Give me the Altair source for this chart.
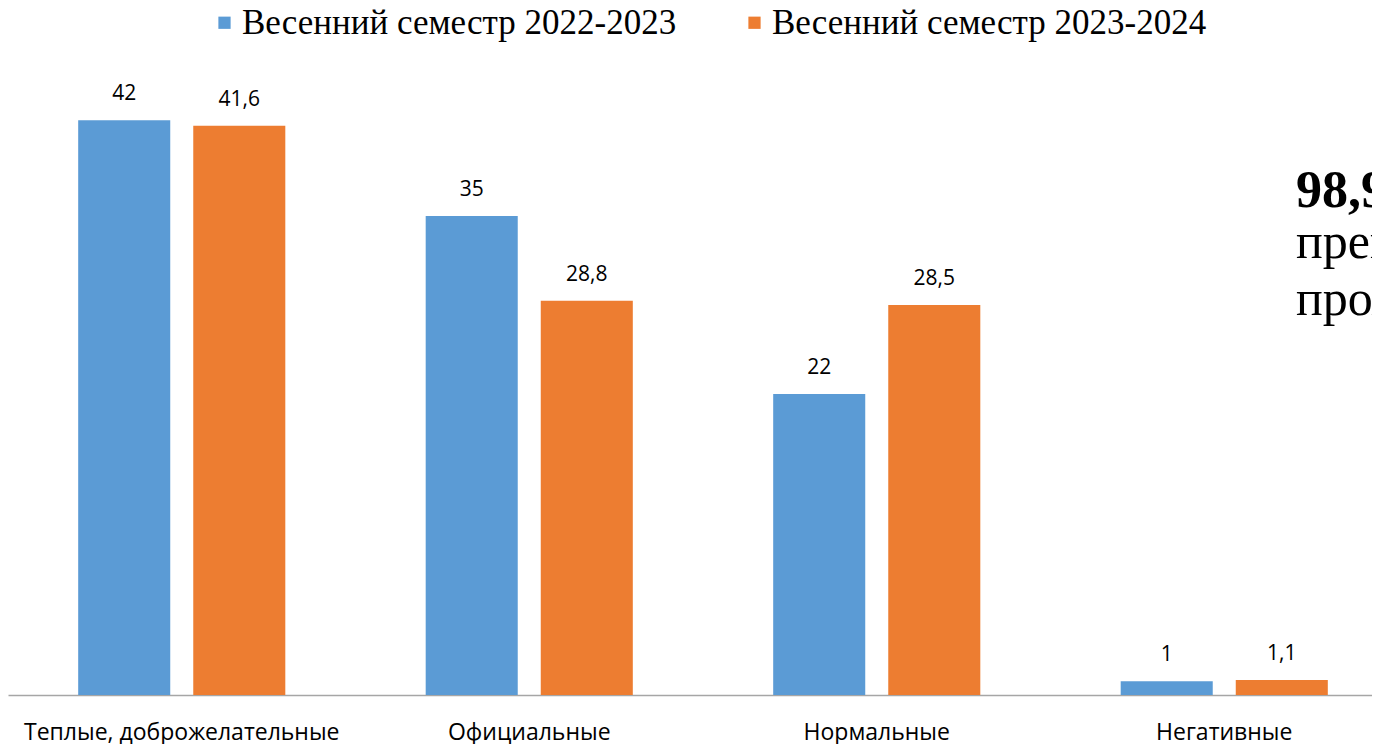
import altair as alt
import pandas as pd

categories = ["Теплые, доброжелательные", "Официальные", "Нормальные", "Негативные"]
series = ["Весенний семестр 2022-2023", "Весенний семестр 2023-2024"]
values_2022 = [42, 35, 22, 1]
values_2023 = [41.6, 28.8, 28.5, 1.1]
colors = ["#5B9BD5", "#ED7D31"]
side_lines = ["98,9%", "преподавателей", "проявляют"]

rows = []
for c, a, b in zip(categories, values_2022, values_2023):
    rows.append(dict(cat=c, series=series[0], value=a, label=f"{a:g}".replace(".", ",")))
    rows.append(dict(cat=c, series=series[1], value=b, label=f"{b:g}".replace(".", ",")))
df = pd.DataFrame(rows)

x = alt.X(
    "cat:N", sort=categories,
    scale=alt.Scale(range=[0, 1390], paddingInner=0, paddingOuter=0),
    axis=alt.Axis(title=None, labelAngle=0, ticks=False, domainColor="#a6a6a6",
                  domainWidth=1.5, labelFont="Open Sans", labelFontSize=23,
                  labelColor="#000000", labelPadding=26, labelLimit=0),
)
xo = alt.XOffset("series:N", sort=series,
                 scale=alt.Scale(paddingInner=0.2, paddingOuter=0.61))
y = alt.Y("value:Q", scale=alt.Scale(domain=[0, 50.2], nice=False, zero=True), axis=None)
color = alt.Color(
    "series:N", sort=series,
    scale=alt.Scale(domain=series, range=colors),
    legend=alt.Legend(title=None, orient="none", legendX=199, legendY=-3, padding=0,
                      direction="horizontal", symbolType="square", symbolSize=150,
                      symbolStrokeWidth=0, labelFont="Liberation Serif", labelFontSize=35,
                      labelColor="#000000", labelOffset=0, columnPadding=60, labelLimit=0),
)

base = alt.Chart(df)
bars = base.mark_bar().encode(x=x, xOffset=xo, y=y, color=color)
labels = base.mark_text(baseline="bottom", dy=-16, font="Open Sans", fontSize=21,
                        color="#000000").encode(x=x, xOffset=xo, y=y, text="label:N")

side_df = pd.DataFrame({"t": side_lines})
side1 = alt.Chart(side_df.iloc[[0]]).mark_text(
    align="left", baseline="alphabetic", font="Liberation Serif", fontSize=52,
    fontWeight="bold", color="#000000").encode(x=alt.value(1288), y=alt.value(199), text="t:N")
side2 = alt.Chart(side_df.iloc[[1]]).mark_text(
    align="left", baseline="alphabetic", font="Liberation Serif", fontSize=50,
    color="#000000").encode(x=alt.value(1288), y=alt.value(250), text="t:N")
side3 = alt.Chart(side_df.iloc[[2]]).mark_text(
    align="left", baseline="alphabetic", font="Liberation Serif", fontSize=50,
    color="#000000").encode(x=alt.value(1288), y=alt.value(307), text="t:N")

chart = alt.layer(bars, labels, side1, side2, side3).properties(
    width=1364, height=687,
    padding={"left": 0, "top": 0, "right": 0, "bottom": 49},
    autosize=alt.AutoSizeParams(type="none"),
    background="#ffffff",
).configure_view(stroke=None)

chart.save("out.html", embed_options={"renderer": "svg", "actions": False})
